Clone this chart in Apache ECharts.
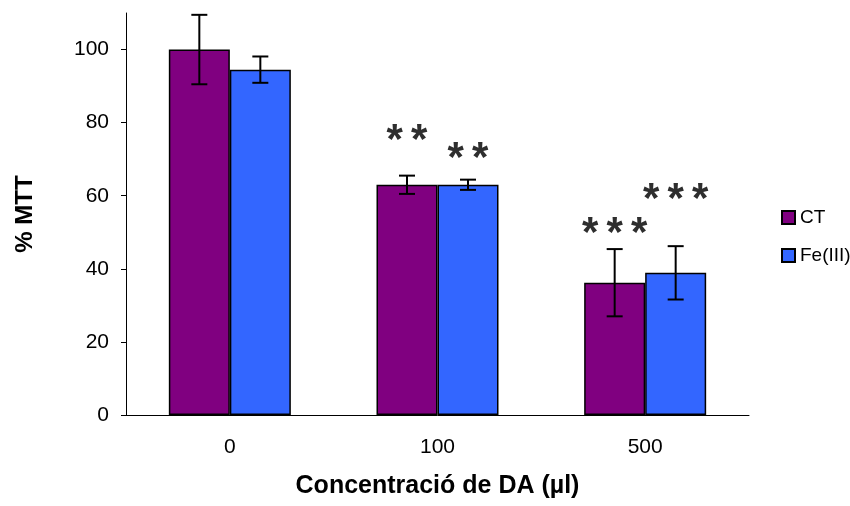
<!DOCTYPE html>
<html>
<head>
<meta charset="utf-8">
<script src="https://cdn.jsdelivr.net/npm/echarts@6/dist/echarts.min.js"></script>
<style>
  html, body { margin: 0; padding: 0; background: #fff; }
  #main { width: 850px; height: 506px; }
</style>
</head>
<body>
<div id="main"></div>
<script>
// dades del gràfic
var categories = ['0', '100', '500'];
var yTicks = [0, 20, 40, 60, 80, 100];
var ctValues = [100, 63, 36.2];
var ctErrors = [9.5, 2.5, 9.2];
var feValues = [94.5, 63, 38.9];
var feErrors = [3.6, 1.4, 7.3];
// asteriscs de significació (posició en valor de l'eix Y, nombre d'asteriscs)
var ctStarY = [null, 77.0, 51.5];
var ctStars = [0, 2, 3];
var feStarY = [null, 72.2, 61.0];
var feStars = [0, 2, 3];

var barW = 61;
var font = '"Liberation Sans", Arial, sans-serif';

var myChart = echarts.init(document.getElementById('main'));

function errorSeries(values, errors, shift) {
    return {
        type: 'custom',
        z: 5,
        data: values.map(function (v, i) { return [i, v - errors[i], v + errors[i]]; }),
        renderItem: function (params, api) {
            var lo = api.coord([api.value(0), api.value(1)]);
            var hi = api.coord([api.value(0), api.value(2)]);
            var x = lo[0] + shift;
            var c = 8;
            var st = { stroke: '#000', lineWidth: 2 };
            return {
                type: 'group',
                children: [
                    { type: 'line', shape: { x1: x, y1: lo[1], x2: x, y2: hi[1] }, style: st },
                    { type: 'line', shape: { x1: x - c, y1: lo[1], x2: x + c, y2: lo[1] }, style: st },
                    { type: 'line', shape: { x1: x - c, y1: hi[1], x2: x + c, y2: hi[1] }, style: st }
                ]
            };
        }
    };
}

function starSeries(ys, counts, shift) {
    return {
        type: 'custom',
        z: 6,
        data: ys.map(function (y, i) { return [i, y === null ? 0 : y, counts[i]]; }),
        renderItem: function (params, api) {
            var n = counts[params.dataIndex];
            if (!n) return null;
            var p = api.coord([api.value(0), api.value(1)]);
            var kids = [];
            for (var k = 0; k < n; k++) {
                kids.push({
                    type: 'text',
                    style: {
                        x: p[0] + shift + (k - (n - 1) / 2) * 24.5,
                        y: p[1] + 8,
                        text: '*',
                        fill: '#2e2e2e',
                        font: 'bold 42px ' + font,
                        align: 'center',
                        verticalAlign: 'middle'
                    }
                });
            }
            return { type: 'group', children: kids };
        }
    };
}

myChart.setOption({
    animation: false,
    backgroundColor: '#fff',
    grid: { left: 126, right: 101, top: 13, bottom: 91, outerBoundsMode: 'none' },
    legend: {
        orient: 'vertical',
        left: 776,
        top: 203,
        itemWidth: 13,
        itemHeight: 13,
        itemGap: 19,
        icon: 'rect',
        data: ['CT', 'Fe(III)'],
        textStyle: { fontFamily: font, fontSize: 19, color: '#000' }
    },
    xAxis: {
        type: 'category',
        data: categories,
        name: 'Concentració de DA (µl)',
        nameLocation: 'middle',
        nameGap: 59,
        nameTextStyle: { fontFamily: font, fontSize: 25, fontWeight: 'bold', color: '#000' },
        axisLine: { lineStyle: { color: '#000', width: 1 } },
        axisTick: { length: 8, lineStyle: { color: '#000' } },
        axisLabel: { fontFamily: font, fontSize: 21, color: '#000', margin: 22 }
    },
    yAxis: {
        type: 'value',
        min: 0,
        max: 110,
        interval: 20,
        name: '% MTT',
        nameLocation: 'middle',
        nameGap: 89,
        nameTextStyle: { fontFamily: font, fontSize: 24, fontWeight: 'bold', color: '#000' },
        axisLine: { show: true, lineStyle: { color: '#000', width: 1 } },
        axisTick: { show: true, length: 5, customValues: yTicks, lineStyle: { color: '#000' } },
        axisLabel: { fontFamily: font, fontSize: 21, color: '#000', margin: 17, customValues: yTicks },
        splitLine: { show: false }
    },
    series: [
        {
            name: 'CT',
            type: 'bar',
            barWidth: barW,
            barGap: '0%',
            data: ctValues,
            itemStyle: { color: '#800080', borderColor: '#000', borderWidth: 1.5 }
        },
        {
            name: 'Fe(III)',
            type: 'bar',
            barWidth: barW,
            barGap: '0%',
            data: feValues,
            itemStyle: { color: '#3366ff', borderColor: '#000', borderWidth: 1.5 }
        },
        errorSeries(ctValues, ctErrors, -barW / 2),
        errorSeries(feValues, feErrors, barW / 2),
        starSeries(ctStarY, ctStars, -barW / 2),
        starSeries(feStarY, feStars, barW / 2)
    ]
});
</script>
</body>
</html>
